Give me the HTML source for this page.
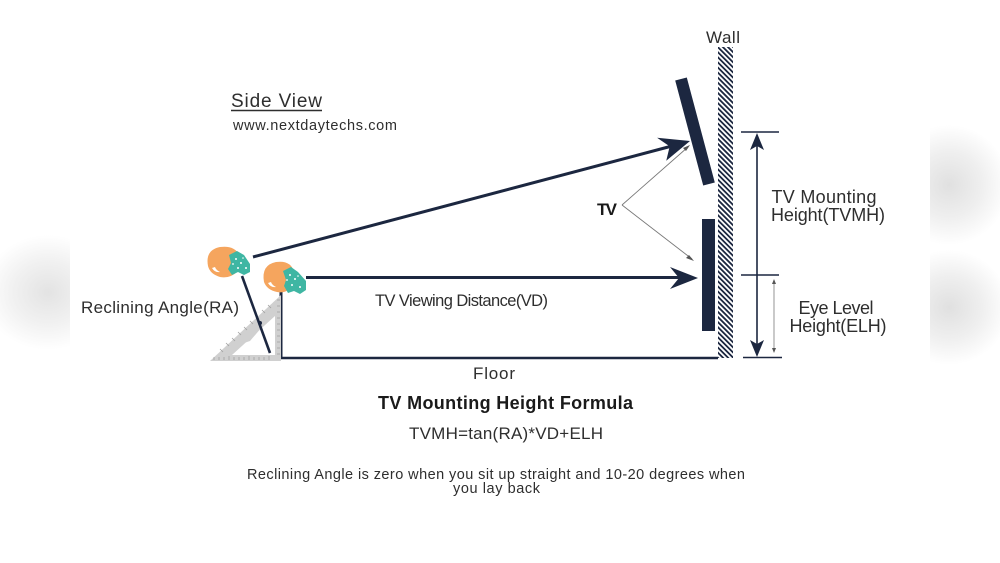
<!DOCTYPE html>
<html>
<head>
<meta charset="utf-8">
<style>
  html, body { margin:0; padding:0; background:#fff; }
  body { width:1000px; height:563px; overflow:hidden; }
  svg { display:block; }
  text { font-family: "Liberation Sans", "DejaVu Sans", sans-serif; fill:#2e2e2e; }
</style>
</head>
<body>
<svg width="1000" height="563" viewBox="0 0 1000 563" xmlns="http://www.w3.org/2000/svg">
  <defs>
    <pattern id="hatch" patternUnits="userSpaceOnUse" width="3.6" height="3.6" patternTransform="rotate(45)">
      <rect x="0" y="0" width="3.6" height="1.8" fill="#1c2740"/>
    </pattern>
    <radialGradient id="blurL" cx="0.6" cy="0.5" r="0.5">
      <stop offset="0" stop-color="#e3e3e3"/>
      <stop offset="0.55" stop-color="#f1f1f1"/>
      <stop offset="1" stop-color="#ffffff"/>
    </radialGradient>
    <radialGradient id="blurR" cx="0.45" cy="0.5" r="0.5">
      <stop offset="0" stop-color="#e0e0e0"/>
      <stop offset="0.55" stop-color="#efefef"/>
      <stop offset="1" stop-color="#ffffff"/>
    </radialGradient>
  </defs>

  <rect x="0" y="0" width="1000" height="563" fill="#fff"/>

  <!-- blurred side backgrounds -->
  <rect x="-30" y="235" width="130" height="115" fill="url(#blurL)"/>
  <rect x="895" y="125" width="120" height="120" fill="url(#blurR)"/>
  <rect x="895" y="250" width="120" height="115" fill="url(#blurR)"/>
  <rect x="70" y="0" width="860" height="563" fill="#fff"/>

  <!-- Titles -->
  <text x="231" y="107" font-size="19" textLength="91">Side View</text>
  <line x1="231" y1="110.5" x2="322" y2="110.5" stroke="#2e2e2e" stroke-width="1.4"/>
  <text x="233" y="130" font-size="14.5" textLength="164">www.nextdaytechs.com</text>

  <!-- Wall -->
  <text x="723" y="43" font-size="17" text-anchor="middle" textLength="34">Wall</text>
  <rect x="718" y="47" width="15" height="311" fill="url(#hatch)"/>

  <!-- Tilted TV -->
  <line x1="681" y1="79" x2="709" y2="184" stroke="#1c2740" stroke-width="12"/>
  <!-- Straight TV -->
  <rect x="702" y="219" width="13" height="112" fill="#1c2740"/>

  <!-- Floor & seat lines -->
  <line x1="281" y1="358" x2="718" y2="358" stroke="#1c2740" stroke-width="2.5"/>
  <line x1="281" y1="290" x2="281" y2="359" stroke="#1c2740" stroke-width="3"/>

  <!-- Speed square triangle -->
  <polygon points="210,361 281,295 281,361" fill="#d0d0d0"/>
  <polygon points="232,355 275,316 275,355" fill="#ffffff"/>
  <polygon points="244,343 262,327 250,341" fill="#d0d0d0"/>
  <g stroke="#a0a0a0" stroke-width="0.8">
    <line x1="214" y1="360" x2="214" y2="357"/><line x1="219" y1="360" x2="219" y2="357"/>
    <line x1="224" y1="360" x2="224" y2="357"/><line x1="229" y1="360" x2="229" y2="356"/>
    <line x1="234" y1="360" x2="234" y2="357"/><line x1="239" y1="360" x2="239" y2="357"/>
    <line x1="244" y1="360" x2="244" y2="357"/><line x1="249" y1="360" x2="249" y2="356"/>
    <line x1="254" y1="360" x2="254" y2="357"/><line x1="259" y1="360" x2="259" y2="357"/>
    <line x1="264" y1="360" x2="264" y2="357"/><line x1="269" y1="360" x2="269" y2="356"/>
    <line x1="280" y1="300" x2="277" y2="300"/><line x1="280" y1="306" x2="277" y2="306"/>
    <line x1="280" y1="312" x2="277" y2="312"/><line x1="280" y1="318" x2="277" y2="318"/>
    <line x1="280" y1="324" x2="277" y2="324"/><line x1="280" y1="330" x2="277" y2="330"/>
    <line x1="280" y1="336" x2="277" y2="336"/><line x1="280" y1="342" x2="277" y2="342"/>
    <line x1="280" y1="348" x2="277" y2="348"/><line x1="280" y1="354" x2="277" y2="354"/>
    <line x1="220" y1="349" x2="223" y2="352"/><line x1="226" y1="343" x2="229" y2="346"/>
    <line x1="232" y1="338" x2="235" y2="341"/><line x1="238" y1="332" x2="241" y2="335"/>
    <line x1="244" y1="327" x2="247" y2="330"/><line x1="250" y1="321" x2="253" y2="324"/>
    <line x1="256" y1="316" x2="259" y2="319"/><line x1="262" y1="310" x2="265" y2="313"/>
    <line x1="268" y1="305" x2="271" y2="308"/>
  </g>

  <!-- Reclining line -->
  <line x1="242" y1="276" x2="270" y2="353" stroke="#1c2740" stroke-width="2.6"/>
  <circle cx="260" cy="323" r="2" fill="#1c2740"/>

  <!-- Helmet 1 -->
  <g>
    <path d="M208,266 q-3,-16 12,-19 q16,-2 20,10 l-2,14 q-8,8 -18,6 q-10,-3 -12,-11 z" fill="#f5a55e"/>
    <path d="M212,268 q3,5 8,4 q-4,-2 -5,-5 z" fill="#fff"/>
    <path d="M229,255 l8,-4 l7,4 l6,9 l0,8 l-6,3 l-6,-3 l-6,3 l-4,-6 l3,-6 z" fill="#3fb6a3"/>
    <g fill="#fff">
      <circle cx="236" cy="259" r="1"/><circle cx="241" cy="263" r="1"/>
      <circle cx="238" cy="268" r="1"/><circle cx="246" cy="268" r="1"/>
      <circle cx="233" cy="264" r="0.9"/><circle cx="243" cy="258" r="0.8"/>
    </g>
  </g>
  <!-- Helmet 2 -->
  <g>
    <path d="M264,282 q-3,-17 12,-20 q15,-2 18,10 l-1,14 q-7,8 -16,6 q-10,-2 -13,-10 z" fill="#f5a55e"/>
    <path d="M268,283 q3,5 8,4 q-4,-2 -5,-5 z" fill="#fff"/>
    <path d="M283,271 l8,-4 l7,5 l8,9 l0,9 l-6,4 l-6,-3 l-6,2 l-4,-7 l2,-6 z" fill="#3fb6a3"/>
    <g fill="#fff">
      <circle cx="290" cy="275" r="1"/><circle cx="295" cy="279" r="1"/>
      <circle cx="292" cy="285" r="1"/><circle cx="300" cy="287" r="1"/>
      <circle cx="287" cy="280" r="0.9"/><circle cx="298" cy="276" r="0.8"/>
    </g>
  </g>

  <!-- Upper sight line -->
  <line x1="253" y1="257" x2="672" y2="146" stroke="#1c2740" stroke-width="3"/>
  <g transform="translate(690,141) rotate(-14.8)">
    <polygon points="0,0 -31,-11.5 -21,0 -28,13" fill="#1c2740"/>
  </g>

  <!-- Horizontal VD line -->
  <line x1="306" y1="277.5" x2="680" y2="277.5" stroke="#1c2740" stroke-width="3"/>
  <polygon points="698,278 670,267 679,278 670,289" fill="#1c2740"/>

  <!-- TV label and pointer lines -->
  <text x="597" y="215" font-size="17" font-weight="bold" textLength="20" style="fill:#1a1a1a">TV</text>
  <g stroke="#777" stroke-width="0.9">
    <line x1="622" y1="205" x2="688" y2="147"/>
    <line x1="622" y1="205" x2="692" y2="259"/>
  </g>
  <polygon points="690,145 683,148 686,151" fill="#555"/>
  <polygon points="694,261 686,258 689,255" fill="#555"/>

  <!-- Dimension lines -->
  <g stroke="#1c2740" stroke-width="1.6">
    <line x1="741" y1="132" x2="779" y2="132"/>
    <line x1="741" y1="275" x2="779" y2="275"/>
    <line x1="743" y1="357.5" x2="782" y2="357.5"/>
    <line x1="757" y1="140" x2="757" y2="350"/>
  </g>
  <polygon points="757,133 750,150 757,146 764,150" fill="#1c2740"/>
  <polygon points="757,357 750,340 757,344 764,340" fill="#1c2740"/>
  <line x1="774" y1="281" x2="774" y2="351" stroke="#888" stroke-width="0.9"/>
  <polygon points="774,279 772,284 776,284" fill="#555"/>
  <polygon points="774,353 772,348 776,348" fill="#555"/>

  <text x="824" y="203" font-size="18" text-anchor="middle" textLength="105">TV Mounting</text>
  <text x="828" y="221" font-size="18" text-anchor="middle" textLength="114">Height(TVMH)</text>
  <text x="836" y="314" font-size="18" text-anchor="middle" textLength="75">Eye Level</text>
  <text x="838" y="332" font-size="18" text-anchor="middle" textLength="97">Height(ELH)</text>

  <!-- Left labels -->
  <text x="81" y="313" font-size="17" textLength="158">Reclining Angle(RA)</text>
  <text x="375" y="306" font-size="16.5" textLength="173">TV Viewing Distance(VD)</text>

  <!-- Bottom texts -->
  <text x="494" y="379" font-size="17" text-anchor="middle" textLength="42">Floor</text>
  <text x="378" y="409" font-size="18" font-weight="bold" textLength="255" style="fill:#1a1a1a">TV Mounting Height Formula</text>
  <text x="409" y="439" font-size="17" textLength="194">TVMH=tan(RA)*VD+ELH</text>
  <text x="247" y="479" font-size="14.5" textLength="498">Reclining Angle is zero when you sit up straight and 10-20 degrees when</text>
  <text x="453" y="493" font-size="14.5" textLength="87">you lay back</text>
</svg>
</body>
</html>
